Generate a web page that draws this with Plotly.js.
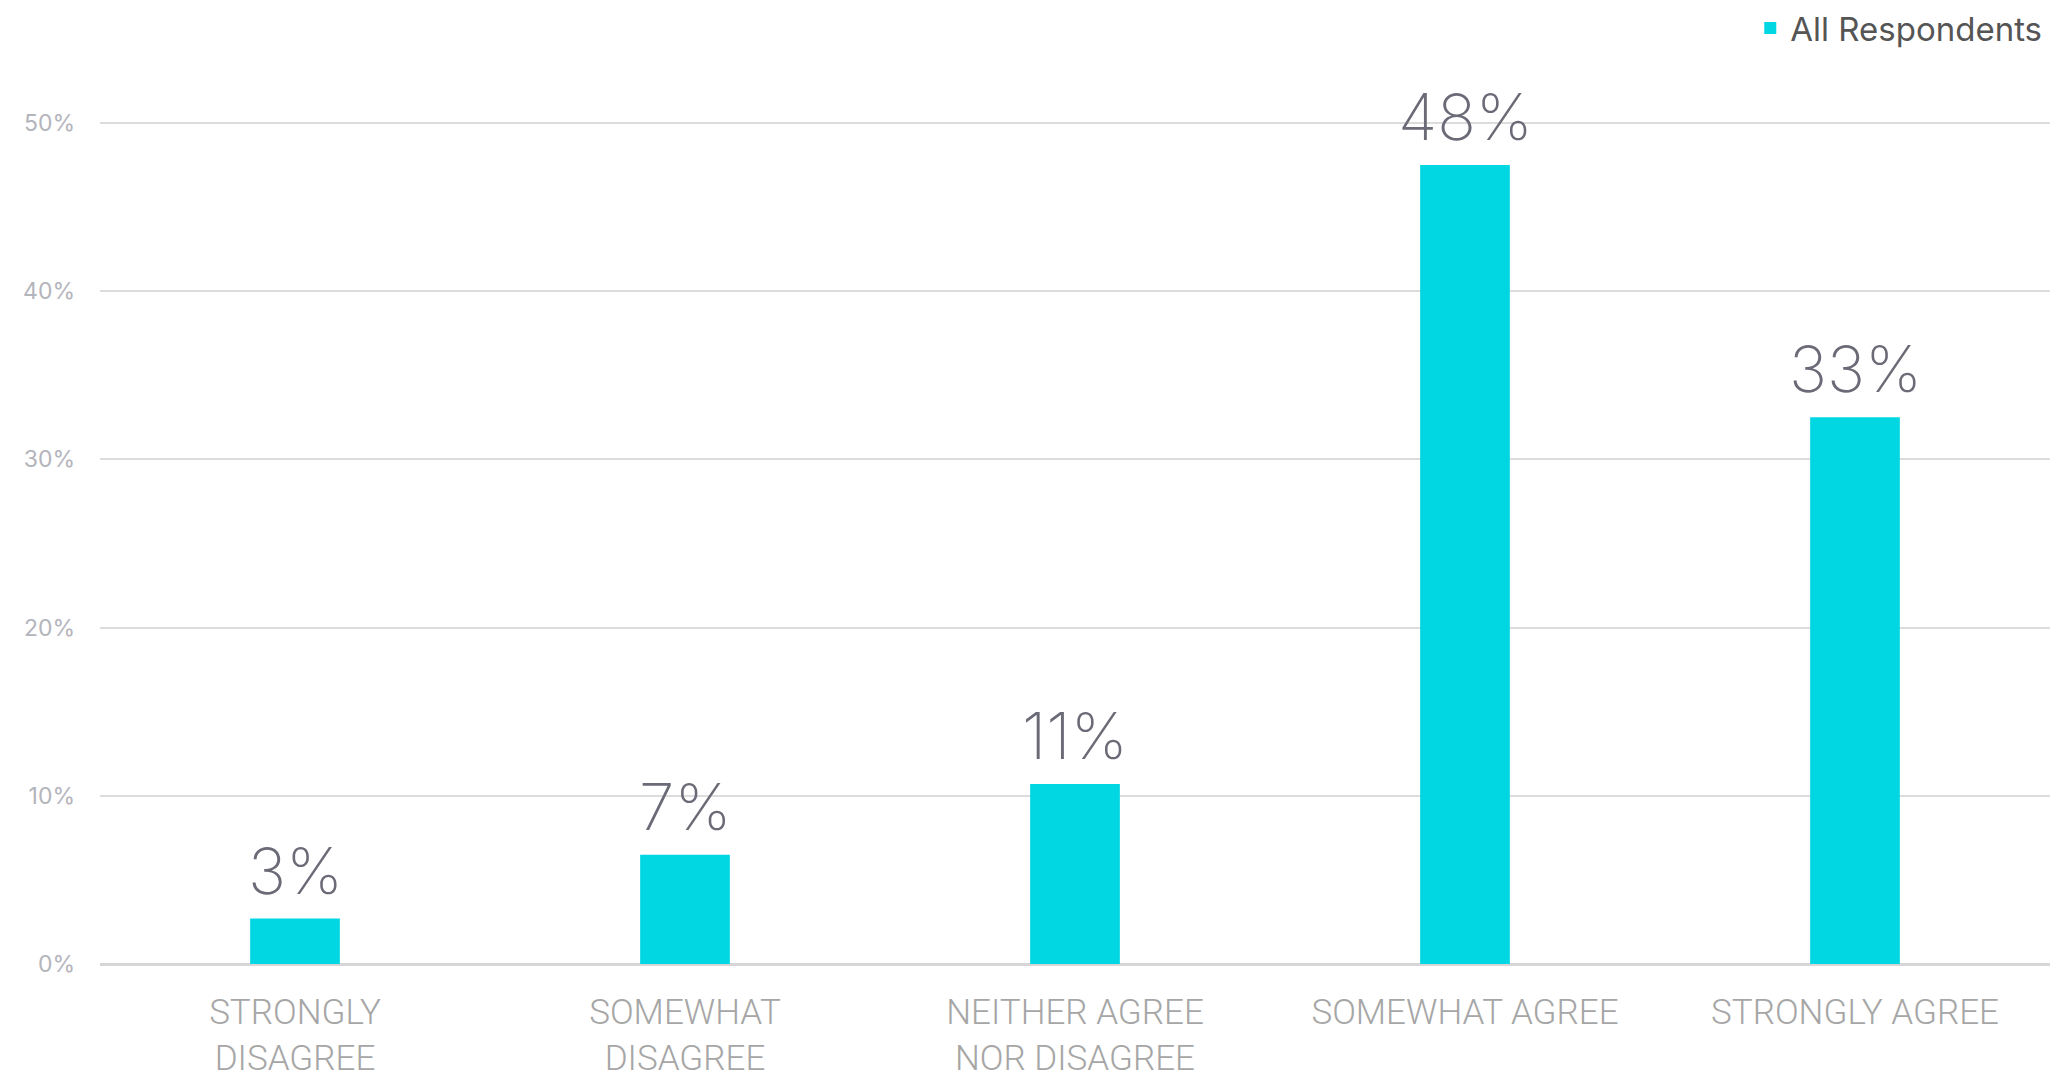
<!DOCTYPE html>
<html>
<head>
<meta charset="utf-8">
<script src="https://cdn.plot.ly/plotly-3.0.1.min.js"></script>
<style>html,body{margin:0;padding:0;background:#fff;}#chart{width:2066px;height:1077px;}</style>
</head>
<body>
<div id="chart"></div>
<script>
const categories = ["STRONGLY<br>DISAGREE", "SOMEWHAT<br>DISAGREE", "NEITHER AGREE<br>NOR DISAGREE", "SOMEWHAT AGREE", "STRONGLY AGREE"];
const seriesName = "All Respondents";
const values = [2.7, 6.5, 10.7, 47.5, 32.5];
const valueLabels = ["3%", "7%", "11%", "48%", "33%"];
const yTickVals = [0, 10, 20, 30, 40, 50];
const yTickText = ["0%", "10%", "20%", "30%", "40%", "50%"];

const trace = {
  type: "bar",
  x: categories,
  y: values,
  name: seriesName,
  marker: {color: "#00D7E2"},
  showlegend: true,
  hoverinfo: "skip"
};

const annotations = categories.map((c, i) => ({
  x: c, y: values[i], xref: "x", yref: "y",
  text: valueLabels[i], showarrow: false,
  yanchor: "bottom", yshift: 8,
  font: {family: "Inter", size: 64, weight: 200, color: "#6b6b78"}
}));

const layout = {
  width: 2066, height: 1077,
  margin: {l: 100, r: 16, t: 122, b: 113, autoexpand: false},
  paper_bgcolor: "#ffffff", plot_bgcolor: "#ffffff",
  bargap: 0.77,
  showlegend: true,
  legend: {
    xref: "paper", x: 0.9986, xanchor: "right",
    yref: "container", y: 1.015, yanchor: "top",
    font: {family: "Inter", size: 33, color: "#555555"},
    bgcolor: "rgba(0,0,0,0)"
  },
  xaxis: {
    type: "category",
    tickfont: {family: "Roboto", size: 35, weight: 300, color: "#a6a6a6"},
    ticks: "", showgrid: false, showline: false, zeroline: false,
    ticklabelstandoff: 24
  },
  yaxis: {
    range: [0, 50.06],
    tickvals: yTickVals, ticktext: yTickText,
    tickfont: {family: "Inter", size: 23, color: "#b4b4bc"},
    showgrid: true, gridcolor: "#dcdcdc", gridwidth: 2,
    zeroline: true, zerolinecolor: "#d6d6d6", zerolinewidth: 3,
    showline: false, ticks: "", ticklabelstandoff: 24
  },
  annotations: annotations
};

Plotly.newPlot("chart", [trace], layout, {displayModeBar: false, staticPlot: true});
</script>
</body>
</html>
